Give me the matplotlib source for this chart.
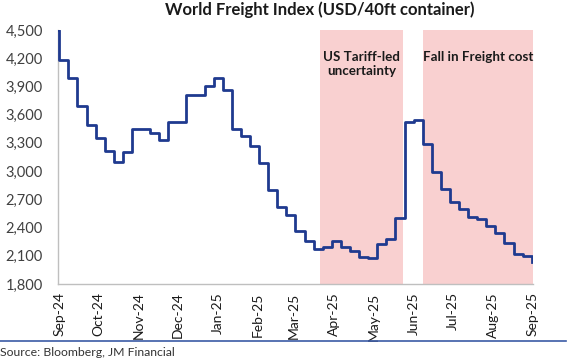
import numpy as np
import pandas as pd
import matplotlib
matplotlib.use("Agg")
import matplotlib.pyplot as plt
import matplotlib.dates as mdates
import matplotlib.transforms as mtransforms
from matplotlib.lines import Line2D
from matplotlib.ticker import FuncFormatter

plt.rcParams['font.family'] = ['Lato', 'DejaVu Sans']

# World Freight Index, USD per 40ft container (weekly readings)
start_date = '2024-09-04'
start_value = 4500
first_week = '2024-09-05'
weekly_values = [4181, 3987, 3695, 3490, 3349, 3217, 3100, 3208, 3444, 3444,
                 3410, 3331, 3525, 3525, 3809, 3809, 3905, 3993, 3862, 3444,
                 3368, 3267, 3090, 2799, 2622, 2533, 2367, 2260, 2169, 2197,
                 2257, 2189, 2155, 2091, 2080, 2222, 2275, 2505, 3525, 3543,
                 3285, 2987, 2810, 2668, 2597, 2508, 2491, 2420, 2339, 2239,
                 2116, 2098, 2037]

# shaded periods
period_labels = ['US Tariff-led\nuncertainty', 'Fall in Freight cost']
period_starts = ['2025-03-25', '2025-06-12']
period_ends = ['2025-05-28', '2025-09-05']

x_start, x_end = '2024-09-04', '2025-09-05'
y_ticks = [1800, 2100, 2400, 2700, 3000, 3300, 3600, 3900, 4200, 4500]

dates = [pd.Timestamp(start_date)] + list(pd.date_range(first_week, periods=len(weekly_values), freq='7D'))
values = [start_value] + weekly_values

fig = plt.figure(figsize=(5.73, 3.64), dpi=100)
ax = fig.add_axes([58 / 573, 1 - 284 / 364, 475 / 573, 254 / 364])

for s, e in zip(period_starts, period_ends):
    ax.axvspan(pd.Timestamp(s), pd.Timestamp(e), color='#f9d0d0', lw=0, zorder=0)

ax.step(dates, values, where='post', color='#1f3a8f', lw=2.0, zorder=3)

trans = mtransforms.blended_transform_factory(ax.transData, ax.transAxes)
label_y = [0.868, 0.894]
for s, e, lab, yy in zip(period_starts, period_ends, period_labels, label_y):
    mid = pd.Timestamp(s) + (pd.Timestamp(e) - pd.Timestamp(s)) / 2
    ax.text(mid, yy, lab, transform=trans, ha='center', va='center',
            fontsize=9.6, fontweight='bold', color='#1a1a1a', linespacing=1.2)

ax.set_xlim(pd.Timestamp(x_start), pd.Timestamp(x_end))
ax.set_ylim(y_ticks[0], y_ticks[-1])
ax.set_yticks(y_ticks)
ax.yaxis.set_major_formatter(FuncFormatter(lambda v, p: f'{int(v):,}'))
ax.xaxis.set_major_locator(mdates.MonthLocator(bymonthday=5))
ax.xaxis.set_major_formatter(mdates.DateFormatter('%b-%y'))
ax.tick_params(axis='y', length=0, pad=11, labelsize=10.5, labelcolor='#404040')
ax.tick_params(axis='x', length=0, pad=6, labelsize=10, labelcolor='#1a1a1a', rotation=90)

for side in ['top', 'right']:
    ax.spines[side].set_visible(False)
for side in ['left', 'bottom']:
    ax.spines[side].set_color('#bfbfbf')
    ax.spines[side].set_linewidth(1.0)

fig.text(320 / 573, 1 - 10 / 364, 'World Freight Index (USD/40ft container)',
         ha='center', va='center', fontsize=12, fontweight='bold', color='#1a1a1a')

fig.add_artist(Line2D([0, 566 / 573], [1 - 341 / 364] * 2, color='#3b5ba5', lw=1.2))
fig.text(0.0, 1 - 352 / 364, 'Source: Bloomberg, JM Financial', ha='left', va='center',
         fontsize=8.8, color='#333333')

fig.savefig('out.png', dpi=100)
